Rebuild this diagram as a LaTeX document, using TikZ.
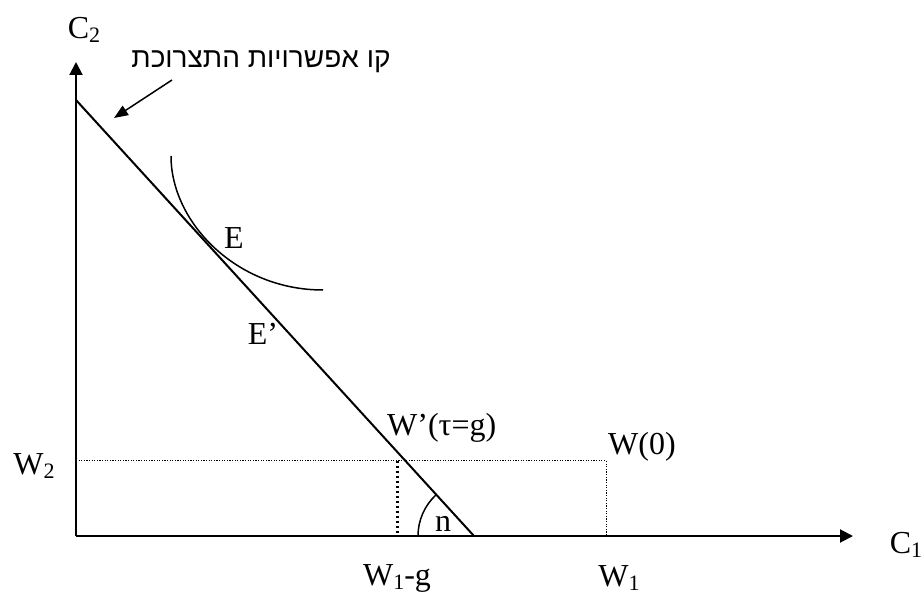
\documentclass[tikz,border=0pt]{standalone}
\usepackage{fontspec}
\setmainfont{Liberation Serif}
\newfontfamily\hebfont[Script=Hebrew]{Liberation Sans}
\TeXXeTstate=1
\usetikzlibrary{arrows.meta}
\newcommand{\lowsub}[1]{\raisebox{-0.3ex}{\fontsize{22}{22}\selectfont #1}}
\begin{document}
\begin{tikzpicture}[x=1pt,y=-1pt,
  lbl/.style={inner sep=0pt,font=\fontsize{32}{36}\selectfont},
  axis/.style={line width=2pt,-{Triangle[length=13pt,width=13pt]}},
  thindot/.style={line width=1pt,dash pattern=on 1.2pt off 1.4pt},
  thickdot/.style={line width=3pt,dash pattern=on 2.5pt off 2.5pt}]
\useasboundingbox (0,0) rectangle (924,596);
\coordinate (O) at (76,536);
\coordinate (ytip) at (76,62);
\coordinate (xtip) at (853,536);
\coordinate (A) at (76,100);
\coordinate (B) at (474,536);
\coordinate (Wp) at (397,460.7);
\coordinate (Wpb) at (397,536);
\coordinate (Wz) at (606,460.7);
\coordinate (Wzb) at (606,536);
\coordinate (Wl) at (76,460.7);
\coordinate (cs) at (171,156);
\coordinate (ce) at (323,290);
\coordinate (hs) at (172,80);
\coordinate (he) at (114,118);
\coordinate (arcs) at (418,536);
% axes
\draw[axis] (O) -- (ytip);
\draw[axis] (O) -- (xtip);
% dotted
\draw[thindot] (Wl) -- (Wz) -- (Wzb);
\draw[thickdot] (Wp) -- (Wpb);
% budget line
\draw[line width=2pt] (A) -- (B);
% indifference curve
\draw[line width=1.5pt] (cs) .. controls (171,222) and (236,290) .. (ce);
% angle arc
\draw[line width=1.5pt] (arcs) arc[start angle=180,end angle=227.6,radius=56];
% Hebrew arrow
\draw[line width=1.5pt,-{Triangle[length=14pt,width=11pt]}] (hs) -- (he);
% labels
\node[lbl] (c2) at (84,30) {C\lowsub{2}};
\node[inner sep=0pt,font=\hebfont\fontsize{28}{30}\selectfont] (heb) at (261,62) {\beginR קו אפשרויות התצרוכת\endR};
\node[lbl] (e) at (234,238) {E};
\node[lbl] (ep) at (263,334) {E’};
\node[lbl,anchor=west] (wp) at (387,428) {W’(τ=g)};
\node[lbl,anchor=west] (wz) at (608,447) {W(0)};
\node[lbl] (w2) at (34,466) {W\lowsub{2}};
\node[lbl] (n) at (443,524) {n};
\node[lbl] (w1g) at (397,578) {W\lowsub{1}-g};
\node[lbl] (w1) at (619,578) {W\lowsub{1}};
\node[lbl] (c1) at (906,545) {C\lowsub{1}};
\end{tikzpicture}
\end{document}
